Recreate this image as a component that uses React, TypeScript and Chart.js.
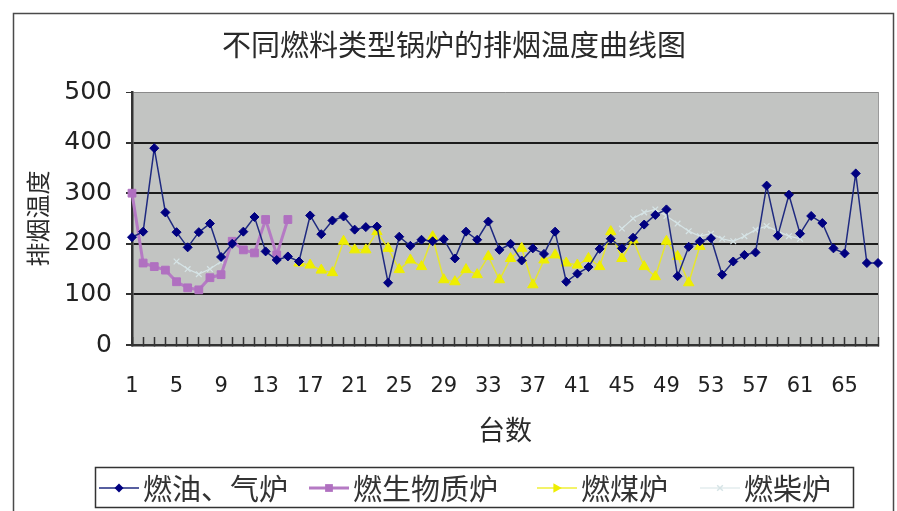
import { useEffect, useRef } from 'react';
import { Chart, registerables } from 'chart.js';

Chart.register(...registerables);

const chartTitle = '不同燃料类型锅炉的排烟温度曲线图';
const yAxisTitle = '排烟温度';
const xAxisTitle = '台数';
const seriesNames = ['燃油、气炉', '燃生物质炉', '燃煤炉', '燃柴炉'];

// boiler numbers 1..68
const categories: string[] = Array.from({ length: 68 }, (_, i) => String(i + 1));

// flue gas temperature, °C
const oilGas = [
  213, 224, 389, 262, 223, 193, 223, 240, 174, 200,
  224, 253, 185, 168, 175, 165, 256, 219, 246, 254,
  228, 233, 234, 123, 214, 196, 208, 205, 209, 171,
  224, 208, 244, 188, 200, 167, 191, 180, 224, 125,
  141, 154, 190, 210, 191, 212, 238, 257, 268, 136,
  194, 205, 211, 139, 165, 178, 183, 315, 216, 297,
  220, 255, 241, 191, 181, 339, 162, 162,
];

const biomassFrom = 1;
const biomass = [300, 162, 155, 148, 125, 113, 109, 133, 139, 205, 188, 182, 248, 178, 248];

const coalFrom = 16;
const coal = [
  162, 158, 148, 143, 205, 188, 188, 224, 191, 149,
  168, 155, 214, 129, 125, 149, 139, 175, 129, 171,
  191, 119, 168, 178, 162, 158, 171, 155, 224, 171,
  208, 155, 135, 205, 175, 123, 195,
];

const dieselFromA = 5;
const dieselA = [165, 150, 140, 150, 165];
const dieselFromB = 45;
const dieselB = [230, 250, 262, 268, 255, 240, 225, 215, 220, 210, 205, 215, 228, 235, 225, 215, 210];

const yMin = 0;
const yMax = 500;
const yStep = 100;

function placeAt(segments: [number, number[]][]): (number | null)[] {
  const out: (number | null)[] = categories.map(() => null);
  segments.forEach(([from, vals]) => {
    vals.forEach((v, i) => {
      out[from - 1 + i] = v;
    });
  });
  return out;
}

const styles = [
  { line: '#1f2a80', fill: '#000080', width: 1.5, marker: 'rectRot', radius: 4.5 },
  { line: '#b57ac4', fill: '#b070c0', width: 3, marker: 'rect', radius: 5.5 },
  { line: 'rgba(236,236,20,0.85)', fill: '#eeee00', width: 1.5, marker: 'triangle', radius: 6 },
  { line: '#d6e4e6', fill: '#d6e4e6', width: 1.2, marker: 'crossRot', radius: 4 },
];

const FRAME = '#4a4a4a';
const CJK = '"Noto Sans CJK SC", "Noto Sans", sans-serif';
const DIGITS = '"DejaVu Sans", sans-serif';

function drawMarker(ctx: CanvasRenderingContext2D, kind: string, x: number, y: number, r: number, color: string) {
  ctx.save();
  ctx.fillStyle = color;
  ctx.strokeStyle = color;
  ctx.lineWidth = 1.5;
  ctx.beginPath();
  if (kind === 'rectRot') {
    ctx.moveTo(x - r, y);
    ctx.lineTo(x, y - r);
    ctx.lineTo(x + r, y);
    ctx.lineTo(x, y + r);
    ctx.closePath();
    ctx.fill();
  } else if (kind === 'rect') {
    const s = r * Math.SQRT1_2;
    ctx.rect(x - s, y - s, 2 * s, 2 * s);
    ctx.fill();
  } else if (kind === 'triangle') {
    ctx.moveTo(x - r * 0.6, y - r * 0.8);
    ctx.lineTo(x + r * 0.8, y);
    ctx.lineTo(x - r * 0.6, y + r * 0.8);
    ctx.closePath();
    ctx.fill();
  } else {
    const s = r * Math.SQRT1_2;
    ctx.moveTo(x - s, y - s);
    ctx.lineTo(x + s, y + s);
    ctx.moveTo(x + s, y - s);
    ctx.lineTo(x - s, y + s);
    ctx.stroke();
  }
  ctx.restore();
}

// page background, outer frame, heading and the grey plot panel
const panelPlugin = {
  id: 'panel',
  beforeDraw(chart: any) {
    const { ctx, chartArea: a, width, height } = chart;
    ctx.save();
    ctx.fillStyle = '#ffffff';
    ctx.fillRect(0, 0, width, height);
    ctx.strokeStyle = FRAME;
    ctx.lineWidth = 1.5;
    ctx.strokeRect(13.5, 13.5, 880, 520);

    ctx.fillStyle = '#2a2a2a';
    ctx.font = `29px ${CJK}`;
    ctx.textAlign = 'center';
    ctx.textBaseline = 'middle';
    ctx.fillText(chartTitle, 454, 45);

    ctx.fillStyle = '#c2c4c2';
    ctx.fillRect(a.left, a.top, a.right - a.left, a.bottom - a.top);
    ctx.strokeStyle = '#9a9a9a';
    ctx.lineWidth = 1;
    ctx.beginPath();
    ctx.moveTo(a.right + 0.5, a.top);
    ctx.lineTo(a.right + 0.5, a.bottom);
    ctx.stroke();
    ctx.restore();
  },
};

// boxed legend with a line sample and a marker for every series
const legendItemX = [99, 309, 537, 700];
const legendPlugin = {
  id: 'boxedLegend',
  afterDraw(chart: any) {
    const ctx: CanvasRenderingContext2D = chart.ctx;
    ctx.save();
    ctx.strokeStyle = '#333';
    ctx.lineWidth = 1.5;
    ctx.strokeRect(95.5, 467.5, 758, 40);
    const cy = 488;
    ctx.font = `29px ${CJK}`;
    ctx.textBaseline = 'middle';
    ctx.textAlign = 'left';
    seriesNames.forEach((name, i) => {
      const st = styles[i];
      const x0 = legendItemX[i];
      const len = 40;
      ctx.strokeStyle = st.line;
      ctx.lineWidth = st.width;
      ctx.beginPath();
      ctx.moveTo(x0, cy);
      ctx.lineTo(x0 + len, cy);
      ctx.stroke();
      drawMarker(ctx, st.marker, x0 + len / 2, cy, st.radius, st.fill);
      ctx.fillStyle = '#333';
      ctx.fillText(name, x0 + len + 4, cy + 1);
    });
    ctx.restore();
  },
};

export default function App() {
  const canvasRef = useRef<HTMLCanvasElement | null>(null);

  useEffect(() => {
    const canvas = canvasRef.current;
    if (!canvas) return;

    const seriesData = [
      oilGas,
      placeAt([[biomassFrom, biomass]]),
      placeAt([[coalFrom, coal]]),
      placeAt([[dieselFromA, dieselA], [dieselFromB, dieselB]]),
    ];

    const chart = new Chart(canvas, {
      type: 'line',
      data: {
        labels: categories,
        datasets: seriesNames.map((name, i) => ({
          label: name,
          data: seriesData[i],
          borderColor: styles[i].line,
          backgroundColor: styles[i].fill,
          pointBackgroundColor: styles[i].fill,
          pointBorderColor: styles[i].fill,
          borderWidth: styles[i].width,
          pointStyle: styles[i].marker as any,
          pointRadius: styles[i].radius,
          pointBorderWidth: i === 3 ? 1.2 : 1,
          tension: 0,
          spanGaps: false,
          fill: false,
        })),
      },
      options: {
        responsive: false,
        animation: false,
        events: [],
        layout: { padding: { left: 0, right: 19, top: 92, bottom: 61 } },
        plugins: {
          legend: { display: false },
          tooltip: { enabled: false },
          title: { display: false },
        },
        scales: {
          x: {
            type: 'category',
            offset: false,
            border: { display: true, color: '#333', width: 2.5 },
            grid: {
              display: true,
              drawOnChartArea: false,
              drawTicks: true,
              tickLength: -8,
              tickColor: '#333',
              tickWidth: 1.5,
            },
            ticks: {
              autoSkip: false,
              maxRotation: 0,
              minRotation: 0,
              padding: 37,
              color: '#222',
              font: { family: DIGITS, size: 21 },
              callback: (_v: any, index: number) => (index % 4 === 0 ? categories[index] : ''),
            },
            title: {
              display: true,
              text: xAxisTitle,
              color: '#2a2a2a',
              font: { family: CJK, size: 27, lineHeight: 1.2 },
              padding: { top: 0, bottom: 4 },
            },
            afterFit: (scale: any) => {
              scale.height = 105;
              scale.paddingLeft = 0;
              scale.paddingRight = 0;
            },
          },
          y: {
            min: yMin,
            max: yMax,
            border: { display: true, color: '#333', width: 2.5 },
            grid: {
              color: (c: any) => (c.tick && c.tick.value === yMax ? '#8a8a8a' : '#1c1c1c'),
              lineWidth: (c: any) => (c.tick && c.tick.value === yMax ? 1 : 2),
              drawTicks: true,
              tickLength: 6,
              tickColor: '#333',
            },
            ticks: {
              stepSize: yStep,
              padding: 14,
              color: '#222',
              font: { family: DIGITS, size: 25 },
            },
            title: {
              display: true,
              text: yAxisTitle,
              color: '#2a2a2a',
              font: { family: CJK, size: 24, lineHeight: 1.2 },
              padding: { top: 23, bottom: 0 },
            },
            afterFit: (scale: any) => {
              scale.width = 132;
              scale.paddingTop = 0;
              scale.paddingBottom = 0;
            },
          },
        },
      },
      plugins: [panelPlugin, legendPlugin],
    });

    return () => {
      chart.destroy();
    };
  }, []);

  return (
    <div style={{ position: 'fixed', left: 0, top: 0, width: 897, height: 511, background: '#fff' }}>
      <canvas ref={canvasRef} width={897} height={511} style={{ display: 'block' }} />
    </div>
  );
}
